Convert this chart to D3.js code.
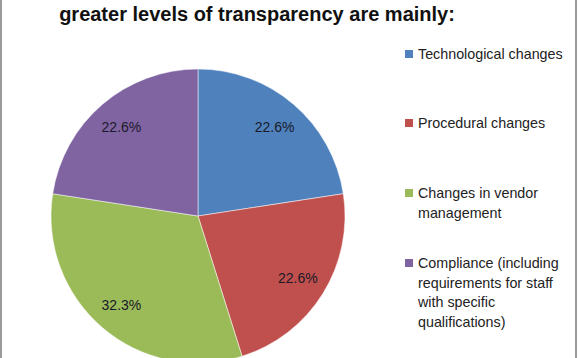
<!DOCTYPE html>
<html><head><meta charset="utf-8">
<script src="https://cdn.jsdelivr.net/npm/d3@7"></script>
<style>body{margin:0;background:#fff;}svg{display:block;}</style>
</head><body>
<svg id="c" width="580" height="358"></svg>
<script>
const categories = ["Technological changes","Procedural changes","Changes in vendor management","Compliance (including requirements for staff with specific qualifications)"];
const values = [22.6, 22.6, 32.3, 22.6];
const colors = ["#4F81BD","#C0504D","#9BBB59","#8064A2"];
const legendLines = [["Technological changes"],["Procedural changes"],["Changes in vendor","management"],["Compliance (including","requirements for staff","with specific","qualifications)"]];
const title = "greater levels of transparency are mainly:";

const svg = d3.select("#c");
const font = "Liberation Sans, Arial, sans-serif";
svg.append("rect").attr("x",0).attr("y",0).attr("width",2).attr("height",358).attr("fill","#9a9a9a");
svg.append("rect").attr("x",575).attr("y",0).attr("width",2).attr("height",358).attr("fill","#9a9a9a");

svg.append("text").attr("x",257).attr("y",21).attr("text-anchor","middle")
  .attr("font-family",font).attr("font-weight","bold").attr("font-size",20).attr("fill","#111").text(title);

const cx=198, cy=216, r=147;
const pie = d3.pie().sort(null).value(d=>d)(values);
const arc = d3.arc().innerRadius(0).outerRadius(r);
const g = svg.append("g").attr("transform",`translate(${cx},${cy})`);
g.selectAll("path").data(pie).join("path").attr("d",arc).attr("fill",(d,i)=>colors[i])
  .attr("stroke","#fff").attr("stroke-width",0.5);
const lab = d3.arc().innerRadius(r*0.8).outerRadius(r*0.8);
g.selectAll("text").data(pie).join("text")
  .attr("transform",d=>`translate(${lab.centroid(d)})`)
  .attr("text-anchor","middle").attr("dy","0.35em")
  .attr("font-family",font).attr("font-size",14).attr("fill","#1a1a2a")
  .text(d=>d.value.toFixed(1)+"%");

const ly=[54,123,193,263], lh=19.5;
const lg = svg.append("g");
legendLines.forEach((lines,i)=>{
  lg.append("rect").attr("x",405).attr("y",ly[i]-4).attr("width",8).attr("height",8).attr("fill",colors[i]);
  lines.forEach((t,j)=>{
    lg.append("text").attr("x",418).attr("y",ly[i]+j*lh).attr("dy","0.35em")
      .attr("font-family",font).attr("font-size",14.3).attr("fill","#222").text(t);
  });
});
</script>
</body></html>
